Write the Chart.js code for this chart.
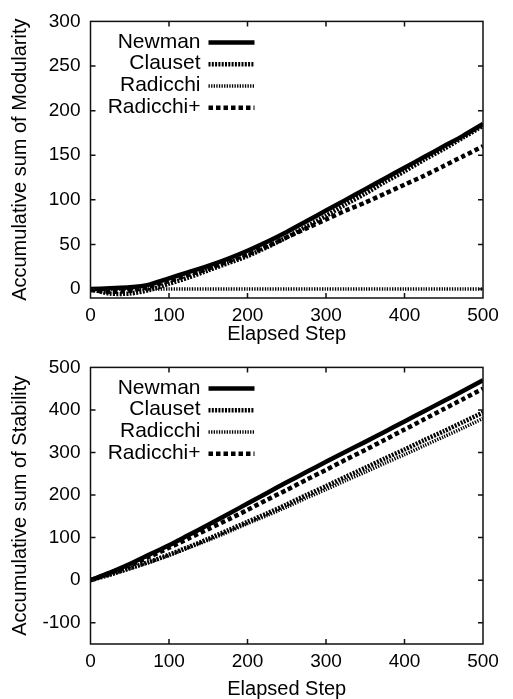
<!DOCTYPE html>
<html>
<head>
<meta charset="utf-8">
<script src="https://cdn.jsdelivr.net/npm/chart.js@4.4.1/dist/chart.umd.min.js"></script>
<style>
  html, body { margin: 0; padding: 0; background: #fff; }
  #wrap { position: relative; width: 513px; height: 699px; }
  canvas { position: absolute; left: 0; }
  #modChart { top: 0; }
  #stabChart { top: 346px; }
</style>
</head>
<body>
<div id="wrap">
  <canvas id="modChart" width="513" height="345"></canvas>
  <canvas id="stabChart" width="513" height="353"></canvas>
</div>
<script>
// sampled elapsed steps
var steps = [0, 25, 50, 75, 100, 125, 150, 175, 200, 225, 250, 275, 300, 325, 350, 375, 400, 425, 450, 475, 500];

// accumulative modularity (top panel)
var modNewman      = [0, 1, 2, 5, 12, 19, 26, 34, 43, 53, 64, 76, 88, 100, 112, 124, 136, 148, 160, 172, 185];
var modClauset     = [0, -5, -5, -1, 6, 13, 21, 29, 37, 47, 58, 70, 82, 95, 107, 120, 132, 145, 157, 170, 183];
var modRadicchi    = [0, 0, 0, 0, 0, 0, 0, 0, 0, 0, 0, 0, 0, 0, 0, 0, 0, 0, 0, 0, 0];
var modRadicchiPlus = [-1, -3, -2, 3, 9, 16, 23, 31, 39, 48, 58, 68, 78, 88, 97, 107, 117, 127, 138, 149, 160];

// accumulative stability (bottom panel)
var stabNewman      = [0, 18, 38, 60, 82, 106, 130, 155, 180, 205, 230, 254, 278, 302, 325, 349, 373, 397, 421, 445, 470];
var stabClauset     = [0, 13, 28, 43, 60, 78, 97, 117, 137, 157, 178, 200, 221, 243, 264, 286, 307, 329, 350, 372, 394];
var stabRadicchi    = [0, 13, 27, 42, 58, 76, 94, 113, 133, 152, 172, 193, 213, 234, 254, 275, 295, 316, 337, 358, 380];
var stabRadicchiPlus = [0, 17, 35, 55, 76, 98, 120, 142, 165, 189, 212, 236, 259, 283, 306, 330, 354, 378, 402, 426, 450];

var seriesNames = ["Newman", "Clauset", "Radicchi", "Radicchi+"];

// tick labels
var xTicks = [0, 100, 200, 300, 400, 500];
var modTicks = [0, 50, 100, 150, 200, 250, 300];
var stabTicks = [-100, 0, 100, 200, 300, 400, 500];

var FONT = "'Liberation Sans', Arial, Helvetica, sans-serif";

// line looks for each method
var lineStyles = [
  { width: 4.5, dash: [] },
  { width: 4.5, dash: [2, 1.3] },
  { width: 3.5, dash: [1.3, 1.3] },
  { width: 4.5, dash: [4.5, 3] }
];

// border box, inward ticks on all four sides, and the legend
var frameAndLegend = {
  id: "frameAndLegend",
  afterDatasetsDraw: function (chart) {
    var ctx = chart.ctx;
    var area = chart.chartArea;
    var xs = chart.scales.x, ys = chart.scales.y;
    ctx.save();
    ctx.strokeStyle = "#111";
    ctx.lineWidth = 1.5;
    ctx.setLineDash([]);
    ctx.strokeRect(area.left, area.top, area.right - area.left, area.bottom - area.top);

    ctx.beginPath();
    xs.ticks.forEach(function (t) {
      var px = xs.getPixelForValue(t.value);
      if (px <= area.left + 1 || px >= area.right - 1) return;
      ctx.moveTo(px, area.bottom); ctx.lineTo(px, area.bottom - 5);
      ctx.moveTo(px, area.top); ctx.lineTo(px, area.top + 5);
    });
    ys.ticks.forEach(function (t) {
      var py = ys.getPixelForValue(t.value);
      if (py <= area.top + 1 || py >= area.bottom - 1) return;
      ctx.moveTo(area.left, py); ctx.lineTo(area.left + 5, py);
      ctx.moveTo(area.right, py); ctx.lineTo(area.right - 5, py);
    });
    ctx.stroke();

    // legend: right aligned names, line sample to the right
    ctx.font = "21px " + FONT;
    ctx.fillStyle = "#000";
    ctx.textAlign = "right";
    ctx.textBaseline = "middle";
    chart.data.datasets.forEach(function (ds, i) {
      var y = area.top + 21 + i * 21.8;
      ctx.fillText(ds.label, area.left + 110, y - 0.5);
      ctx.beginPath();
      ctx.lineWidth = ds.borderWidth;
      ctx.setLineDash(ds.borderDash);
      ctx.strokeStyle = "#000";
      ctx.moveTo(area.left + 118, y);
      ctx.lineTo(area.left + 164, y);
      ctx.stroke();
    });
    ctx.restore();
  }
};

function toPoints(values) {
  return steps.map(function (s, i) { return { x: s, y: values[i] }; });
}

function makeChart(id, yTitle, seriesList, yMin, yMax, yTickList, topPad, xHeight, titleLH) {
  var datasets = seriesList.map(function (vals, i) {
    return {
      label: seriesNames[i],
      data: toPoints(vals),
      borderColor: "#000",
      borderWidth: lineStyles[i].width,
      borderDash: lineStyles[i].dash,
      borderCapStyle: "butt",
      pointRadius: 0,
      tension: 0.25,
      fill: false
    };
  });

  return new Chart(document.getElementById(id), {
    type: "line",
    data: { datasets: datasets },
    options: {
      responsive: false,
      animation: false,
      layout: { padding: { left: 4, right: 30, top: topPad, bottom: 0 } },
      plugins: { legend: { display: false }, tooltip: { enabled: false } },
      scales: {
        x: {
          type: "linear",
          min: 0,
          max: 500,
          afterBuildTicks: function (scale) {
            scale.ticks = xTicks.map(function (v) { return { value: v }; });
          },
          afterFit: function (scale) { scale.height = xHeight; },
          grid: { display: false, drawTicks: false },
          border: { display: false },
          ticks: { color: "#000", padding: 6, font: { family: FONT, size: 19 }, maxRotation: 0 },
          title: {
            display: true,
            text: "Elapsed Step",
            color: "#000",
            padding: 0,
            font: { family: FONT, size: 20, lineHeight: titleLH }
          }
        },
        y: {
          type: "linear",
          min: yMin,
          max: yMax,
          afterBuildTicks: function (scale) {
            scale.ticks = yTickList.map(function (v) { return { value: v }; });
          },
          afterFit: function (scale) { scale.width = 86.5; },
          grid: { display: false, drawTicks: false },
          border: { display: false },
          ticks: { color: "#000", padding: 10, font: { family: FONT, size: 19 } },
          title: {
            display: true,
            text: yTitle,
            color: "#000",
            padding: { top: 4, bottom: 0 },
            font: { family: FONT, size: 20 }
          }
        }
      }
    },
    plugins: [frameAndLegend]
  });
}

makeChart("modChart", "Accumulative sum of Modularity",
  [modNewman, modClauset, modRadicchi, modRadicchiPlus],
  -10, 300, modTicks, 14, 47, 1.1);

makeChart("stabChart", "Accumulative sum of Stability",
  [stabNewman, stabClauset, stabRadicchi, stabRadicchiPlus],
  -150, 500, stabTicks, 14.5, 55, 1.0);
</script>
</body>
</html>
